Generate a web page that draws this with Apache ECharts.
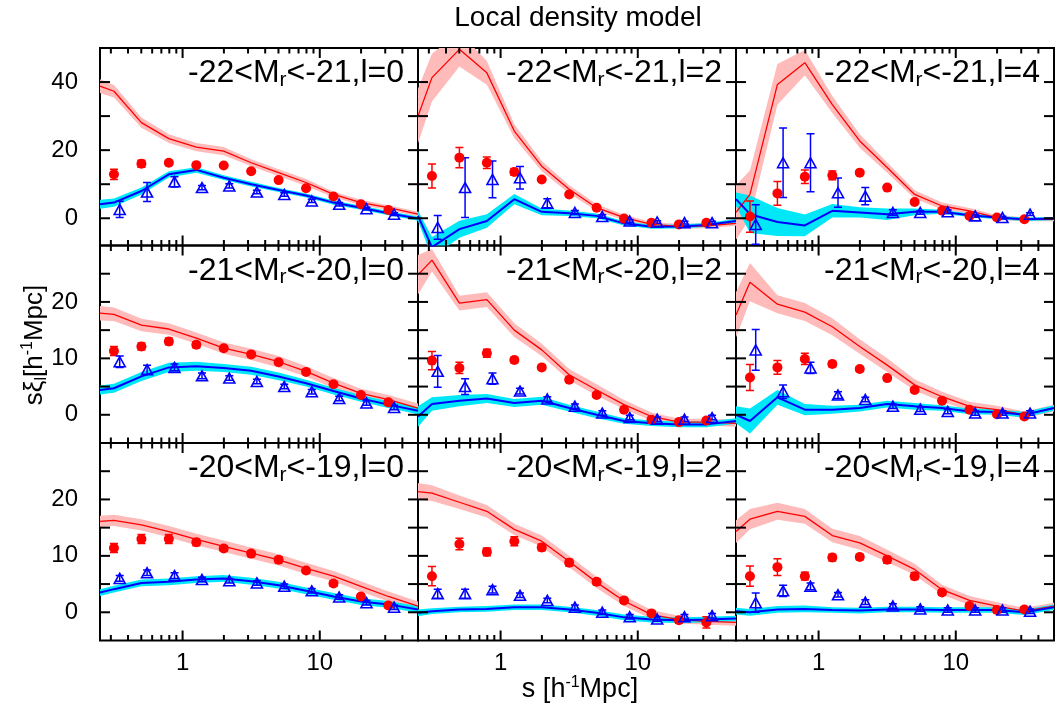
<!DOCTYPE html>
<html><head><meta charset="utf-8">
<script src="https://cdn.jsdelivr.net/npm/echarts@6/dist/echarts.min.js"></script>
<style>html,body{margin:0;padding:0;background:#fff}#c{width:1055px;height:715px}</style>
</head><body><div id="c"></div><script>
// ---- x positions (h^-1 Mpc) ----
const sObs   = [0.316, 0.501, 0.794, 1.259, 1.995, 3.162, 5.012, 7.943, 12.59, 19.95, 31.62];
const sTri   = [0.348, 0.551, 0.873, 1.385, 2.19, 3.48, 5.51, 8.74, 13.85, 21.9, 34.8];
const sModel = [0.25, 0.316, 0.501, 0.794, 1.259, 1.995, 3.162, 5.012, 7.943, 12.59, 19.95, 31.62, 52];
const majorTicksX = [1, 10];
const minorTicksX = [0.3,0.4,0.5,0.6,0.7,0.8,0.9,2,3,4,5,6,7,8,9,20,30,40];
const yMinRow = [-8, -5, -5];
const yMaxRow = [50, 30, 30];
const yTicksRow = [[0,10,20,30,40],[0,5,10,15,20,25],[0,5,10,15,20,25]];
const yLabelsRow = [[0,20,40],[0,10,20],[0,10,20]];
const panelMag = ['-22<M', '-22<M', '-22<M', '-21<M', '-21<M', '-21<M', '-20<M', '-20<M', '-20<M'];
const panelRest = ['<-21,l=0','<-21,l=2','<-21,l=4','<-20,l=0','<-20,l=2','<-20,l=4','<-19,l=0','<-19,l=2','<-19,l=4'];

// ---- panel 1: -22<Mr<-21, l=0 ----
const redModel_A  = [38.8, 37.3, 28.1, 23.4, 20.9, 19.7, 16.3, 13.4, 10.5, 7.0, 4.6, 3.1, 1.2];
const redBand_A   = [2.0, 1.8, 1.5, 1.3, 1.2, 1.2, 1.0, 1.0, 1.0, 0.8, 0.8, 0.7, 0.7];
const blueModel_A = [4.1, 4.6, 8.0, 12.9, 14.2, 11.9, 10.0, 8.3, 6.7, 4.6, 3.1, 1.5, -0.1];
const blueBand_A  = [1.3, 1.2, 1.0, 0.9, 0.8, 0.7, 0.7, 0.6, 0.6, 0.6, 0.6, 0.6, 0.6];
const redObs_A    = [12.9, 16.0, 16.3, 15.6, 15.5, 13.8, 11.2, 8.8, 6.4, 4.1, 2.4];
const redErr_A    = [1.5, 1.0, 0.6, 0.5, 0.4, 0.4, 0.4, 0.4, 0.4, 0.4, 0.4];
const blueObs_A   = [2.6, 7.7, 10.7, 9.0, 9.5, 7.7, 7.0, 5.1, 4.1, 2.8, 1.2];
const blueErr_A   = [2.4, 2.8, 1.5, 0.6, 0.6, 0.5, 0.5, 0.5, 0.5, 0.4, 0.4];
// ---- panel 2: -22<Mr<-21, l=2 ----
const redModel_B  = [30.0, 41.3, 49.6, 42.7, 25.6, 15.3, 8.5, 3.1, 0.2, -1.8, -2.4, -2.2, -1.5];
const redBand_B   = [8, 7, 5, 3.5, 2, 1.5, 1.2, 1, 0.8, 0.7, 0.7, 0.7, 0.7];
const blueModel_B = [0.7, -8.5, -3.2, -0.8, 5.6, 1.9, 1.5, 0.7, -1.5, -2.5, -2.4, -2.0, -0.8];
const blueBand_B  = [1.5, 3, 2.5, 2, 1.5, 1, 0.8, 0.7, 0.6, 0.6, 0.6, 0.6, 0.6];
const redObs_B    = [12.4, 17.8, 16.3, 13.6, 11.4, 7.0, 3.1, -0.1, -1.3, -1.8, -1.3];
const redErr_B    = [3.5, 3.0, 1.7, 1.0, 0.5, 0.4, 0.4, 0.4, 0.4, 0.4, 0.4];
const blueObs_B   = [-2.7, 9.0, 11.4, 11.9, 4.4, 1.7, 0.5, -0.8, -1.1, -1.3, -1.3];
const blueErr_B   = [3.5, 8.8, 5.4, 3.3, 1.3, 0.6, 0.5, 0.4, 0.4, 0.4, 0.4];
// ---- panel 3: -22<Mr<-21, l=4 ----
const redModel_C  = [1.7, 7.0, 39.3, 45.7, 33.4, 22.7, 14.9, 7.0, 3.6, 2.2, 0.2, -0.3, -0.3];
const redBand_C   = [8, 7, 6, 3.7, 2.5, 2, 1.5, 1.2, 1, 0.8, 0.7, 0.6, 0.6];
const blueModel_C = [5.6, 1.2, -1.1, -2.1, 2.2, 1.7, 1.2, 1.9, 1.9, 0.9, 0.2, -0.3, -0.1];
const blueBand_C  = [2, 5.5, 4.1, 3.2, 2, 1.5, 1.7, 1, 0.6, 0.5, 0.5, 0.5, 0.5];
const redObs_C    = [0.5, 7.3, 12.2, 12.6, 13.4, 9.0, 4.8, 2.2, 0.7, 0.2, -0.3];
const redErr_C    = [4.6, 3.5, 2.0, 1.3, 0.5, 0.4, 0.4, 0.4, 0.4, 0.4, 0.4];
const blueObs_C   = [-1.8, 16.3, 16.3, 7.5, 6.5, 1.7, 1.7, 1.9, 0.7, 0.2, 1.2];
const blueErr_C   = [5.8, 10.2, 8.5, 4.3, 2.5, 0.8, 0.5, 0.5, 0.4, 0.4, 0.4];
// ---- panel 4: -21<Mr<-20, l=0 ----
const redModel_D  = [18.0, 17.8, 15.9, 15.2, 13.6, 11.8, 10.7, 9.4, 7.7, 5.6, 3.8, 2.7, 1.2];
const redBand_D   = [1.3, 1.2, 1.1, 1.0, 1.0, 1.0, 1.0, 1.0, 0.9, 0.9, 0.8, 0.8, 0.8];
const blueModel_D = [4.4, 4.7, 6.8, 8.4, 8.6, 8.3, 7.8, 6.8, 5.6, 4.2, 2.9, 1.8, 0.7];
const blueBand_D  = [0.8, 0.8, 0.8, 0.8, 0.8, 0.7, 0.7, 0.7, 0.6, 0.6, 0.6, 0.6, 0.6];
const redObs_D    = [11.3, 12.1, 13.0, 12.4, 11.8, 10.7, 9.3, 7.6, 5.4, 3.5, 2.2];
const redErr_D    = [0.8, 0.6, 0.6, 0.5, 0.4, 0.4, 0.4, 0.4, 0.4, 0.4, 0.4];
const blueObs_D   = [9.4, 8.0, 8.4, 6.9, 6.5, 5.9, 5.0, 4.1, 2.9, 2.1, 1.3];
const blueErr_D   = [1.0, 0.8, 0.6, 0.5, 0.4, 0.4, 0.4, 0.4, 0.4, 0.4, 0.4];
// ---- panel 5: -21<Mr<-20, l=2 ----
const redModel_E  = [24.8, 27.4, 19.8, 20.4, 15.0, 11.5, 7.1, 4.4, 1.8, -0.3, -1.3, -1.3, -1.5];
const redBand_E   = [3.5, 2, 1.3, 1.3, 1.2, 1.1, 1, 1, 0.8, 0.7, 0.6, 0.6, 0.6];
const blueModel_E = [-0.3, 1.9, 2.5, 2.9, 2.1, 2.5, 1.2, 0.0, -1.1, -1.5, -1.7, -1.7, -1.1];
const blueBand_E  = [1.8, 1.2, 1.0, 0.8, 0.7, 0.7, 0.6, 0.6, 0.5, 0.5, 0.5, 0.5, 0.5];
const redObs_E    = [9.6, 8.3, 10.9, 9.7, 8.4, 6.2, 3.5, 0.9, -0.9, -1.3, -1.0];
const redErr_E    = [1.6, 1.0, 0.7, 0.5, 0.4, 0.4, 0.4, 0.4, 0.4, 0.4, 0.4];
const blueObs_E   = [7.7, 5.0, 6.4, 4.2, 2.8, 1.5, 0.3, -0.5, -0.8, -0.8, -0.5];
const blueErr_E   = [2.8, 1.4, 1.0, 0.5, 0.4, 0.4, 0.4, 0.4, 0.4, 0.4, 0.4];
// ---- panel 6: -21<Mr<-20, l=4 ----
const redModel_F  = [17.7, 23.5, 19.6, 18.2, 15.6, 12.1, 8.8, 5.3, 3.2, 1.5, 0.9, 0.0, 1.2];
const redBand_F   = [4, 3.4, 1.6, 1.6, 1.5, 1.3, 1.2, 1, 0.9, 0.8, 0.7, 0.6, 0.6];
const blueModel_F = [0.0, -1.1, 3.1, 0.9, 0.9, 1.2, 1.9, 1.5, 1.2, 0.6, 0.5, 0.0, 1.2];
const blueBand_F  = [1.5, 2.2, 1.3, 1.0, 0.7, 0.6, 0.6, 0.6, 0.5, 0.5, 0.5, 0.5, 0.5];
const redObs_F    = [6.6, 8.4, 9.9, 9.0, 8.1, 6.5, 4.4, 2.5, 0.9, 0.1, -0.3];
const redErr_F    = [2.3, 1.2, 1.0, 0.5, 0.4, 0.4, 0.4, 0.4, 0.4, 0.4, 0.4];
const blueObs_F   = [11.5, 4.1, 8.3, 3.5, 2.7, 1.5, 1.0, 0.6, 0.3, 0.3, 0.3];
const blueErr_F   = [3.6, 1.2, 1.0, 0.6, 0.4, 0.4, 0.4, 0.4, 0.4, 0.4, 0.4];
// ---- panel 7: -20<Mr<-19, l=0 ----
const redModel_G  = [16.1, 16.3, 15.5, 14.3, 12.9, 11.7, 10.5, 9.3, 7.8, 6.4, 4.6, 2.8, 1.1];
const redBand_G   = [1, 1, 1, 1, 1, 1, 1, 1, 1, 0.9, 0.9, 0.9, 0.8];
const blueModel_G = [3.5, 4.1, 5.2, 5.4, 5.8, 6.0, 5.5, 4.8, 3.8, 2.8, 1.9, 1.4, 0.5];
const blueBand_G  = [0.6, 0.6, 0.6, 0.6, 0.6, 0.6, 0.6, 0.6, 0.6, 0.6, 0.6, 0.6, 0.6];
const redObs_G    = [11.4, 13.0, 13.0, 12.4, 11.3, 10.4, 9.3, 7.4, 5.1, 2.8, 1.2];
const redErr_G    = [0.8, 0.8, 0.8, 0.6, 0.5, 0.5, 0.5, 0.5, 0.5, 0.4, 0.4];
const blueObs_G   = [6.0, 7.0, 6.5, 5.8, 5.6, 5.2, 4.6, 3.8, 2.7, 1.7, 0.9];
const blueErr_G   = [0.5, 0.5, 0.5, 0.4, 0.4, 0.4, 0.4, 0.4, 0.4, 0.4, 0.4];
// ---- panel 8: -20<Mr<-19, l=2 ----
const redModel_H  = [21.4, 21.1, 19.5, 17.9, 14.7, 12.6, 9.0, 5.3, 2.0, -0.4, -1.3, -1.6, -1.8];
const redBand_H   = [1.5, 1.4, 1.2, 1.1, 1, 1, 1, 1, 0.9, 0.8, 0.7, 0.6, 0.6];
const blueModel_H = [-0.1, 0.2, 0.5, 0.6, 0.9, 0.9, 0.5, -0.1, -0.9, -1.3, -1.4, -1.3, -1.1];
const blueBand_H  = [0.6, 0.5, 0.5, 0.5, 0.5, 0.5, 0.5, 0.5, 0.5, 0.5, 0.5, 0.5, 0.5];
const redObs_H    = [6.4, 12.1, 10.7, 12.6, 11.5, 8.8, 5.4, 2.1, -0.2, -1.4, -1.8];
const redErr_H    = [1.7, 1.0, 0.7, 0.8, 0.6, 0.6, 0.5, 0.5, 0.5, 0.5, 1.0];
const blueObs_H   = [3.3, 3.3, 4.0, 3.0, 2.1, 0.9, 0.0, -0.8, -1.2, -0.8, -0.6];
const blueErr_H   = [0.8, 0.8, 0.6, 0.4, 0.4, 0.4, 0.4, 0.4, 0.4, 0.4, 0.4];
// ---- panel 9: -20<Mr<-19, l=4 ----
const redModel_I  = [14.3, 16.5, 17.9, 17.0, 13.6, 12.3, 10.0, 7.6, 4.0, 2.1, 1.1, 0.2, 1.1];
const redBand_I   = [2, 1.8, 1.5, 1.3, 1.2, 1.2, 1.1, 1, 0.9, 0.8, 0.7, 0.6, 0.6];
const blueModel_I = [0.2, 0.0, 0.5, 0.6, 0.4, 0.3, 0.5, 0.5, 0.4, 0.4, 0.4, 0.0, 0.9];
const blueBand_I  = [0.6, 0.6, 0.6, 0.6, 0.5, 0.5, 0.5, 0.5, 0.5, 0.5, 0.5, 0.5, 0.5];
const redObs_I    = [6.4, 8.0, 6.4, 9.7, 9.8, 9.3, 6.4, 3.5, 1.1, 0.4, 0.5];
const redErr_I    = [1.8, 1.5, 0.7, 0.6, 0.5, 0.6, 0.6, 0.5, 0.5, 0.5, 0.5];
const blueObs_I   = [1.7, 3.8, 4.6, 3.1, 1.8, 1.1, 0.6, 0.4, 0.4, 0.4, 0.2];
const blueErr_I   = [1.7, 1.0, 0.6, 0.4, 0.4, 0.4, 0.4, 0.4, 0.4, 0.4, 0.4];

const panels = [
  [redModel_A, redBand_A, blueModel_A, blueBand_A, redObs_A, redErr_A, blueObs_A, blueErr_A],
  [redModel_B, redBand_B, blueModel_B, blueBand_B, redObs_B, redErr_B, blueObs_B, blueErr_B],
  [redModel_C, redBand_C, blueModel_C, blueBand_C, redObs_C, redErr_C, blueObs_C, blueErr_C],
  [redModel_D, redBand_D, blueModel_D, blueBand_D, redObs_D, redErr_D, blueObs_D, blueErr_D],
  [redModel_E, redBand_E, blueModel_E, blueBand_E, redObs_E, redErr_E, blueObs_E, blueErr_E],
  [redModel_F, redBand_F, blueModel_F, blueBand_F, redObs_F, redErr_F, blueObs_F, blueErr_F],
  [redModel_G, redBand_G, blueModel_G, blueBand_G, redObs_G, redErr_G, blueObs_G, blueErr_G],
  [redModel_H, redBand_H, blueModel_H, blueBand_H, redObs_H, redErr_H, blueObs_H, blueErr_H],
  [redModel_I, redBand_I, blueModel_I, blueBand_I, redObs_I, redErr_I, blueObs_I, blueErr_I]
];

// ---- layout / style ----
const FONT = 'Liberation Sans, Arial, Helvetica, sans-serif';
const gridLeft = [100, 418, 736], gridTop = [48, 245.5, 443], gridW = 318, gridH = 197.5;
const RED = '#ff0000', PINK = '#ffbaba', BLUE = '#0000ff', CYAN = '#00e8f8';
const X_MIN = 0.25, X_MAX = 52;

const chart = echarts.init(document.getElementById('c'));
const grid = [], xAxis = [], yAxis = [], series = [], graphics = [];

function bandSeries(xi, yi, xs, mid, hw, color) {
  return {
    type: 'custom', xAxisIndex: xi, yAxisIndex: yi, clip: true, silent: true, z: 1,
    data: xs.map((x, k) => [x, mid[k]]),
    renderItem: (params, api) => {
      if (params.dataIndex !== 0) return;
      const pts = [];
      for (let k = 0; k < xs.length; k++) pts.push(api.coord([xs[k], mid[k] + hw[k]]));
      for (let k = xs.length - 1; k >= 0; k--) pts.push(api.coord([xs[k], mid[k] - hw[k]]));
      return {type: 'polygon', shape: {points: pts}, style: {fill: color, stroke: null}};
    }
  };
}
function errSeries(xi, yi, xs, ys, es, color) {
  return {
    type: 'custom', xAxisIndex: xi, yAxisIndex: yi, clip: true, silent: true, z: 4,
    data: xs.map((x, k) => [x, ys[k], es[k]]),
    renderItem: (params, api) => {
      const x = api.value(0), y = api.value(1), e = api.value(2);
      const a = api.coord([x, y + e]), b = api.coord([x, y - e]);
      const w = 4, st = {stroke: color, lineWidth: 1.5};
      return {type: 'group', children: [
        {type: 'line', shape: {x1: a[0], y1: a[1], x2: b[0], y2: b[1]}, style: st},
        {type: 'line', shape: {x1: a[0] - w, y1: a[1], x2: a[0] + w, y2: a[1]}, style: st},
        {type: 'line', shape: {x1: b[0] - w, y1: b[1], x2: b[0] + w, y2: b[1]}, style: st}
      ]};
    }
  };
}

panels.forEach((p, i) => {
  const r = Math.floor(i / 3), c = i % 3;
  const [rm, rb, bm, bb, ro, re, bo, be] = p;
  const yMin = yMinRow[r], yMax = yMaxRow[r];
  grid.push({left: gridLeft[c], top: gridTop[r], width: gridW, height: gridH,
    show: true, borderColor: '#000', borderWidth: 2, backgroundColor: 'rgba(0,0,0,0)'});
  const xi = xAxis.length, yi = yAxis.length;
  xAxis.push({type: 'log', logBase: 10, gridIndex: i, min: X_MIN, max: X_MAX, position: 'bottom',
    axisLine: {show: false, onZero: false}, splitLine: {show: false}, axisTick: {show: false},
    axisLabel: {show: r === 2, customValues: majorTicksX, fontSize: 24, color: '#000', fontFamily: FONT, margin: 11}});
  yAxis.push({type: 'value', gridIndex: i, min: yMin, max: yMax, position: 'left',
    axisLine: {show: false, onZero: false}, splitLine: {show: false}, axisTick: {show: false},
    axisLabel: {show: c === 0, customValues: yLabelsRow[r], fontSize: 24, color: '#000', fontFamily: FONT, margin: 22}});

  series.push(bandSeries(xi, yi, sModel, rm, rb, PINK));
  series.push(bandSeries(xi, yi, sModel, bm, bb, CYAN));
  series.push({type: 'line', xAxisIndex: xi, yAxisIndex: yi, data: sModel.map((x, k) => [x, rm[k]]),
    symbol: 'none', clip: true, z: 2, lineStyle: {color: RED, width: 1.3}, silent: true});
  series.push({type: 'line', xAxisIndex: xi, yAxisIndex: yi, data: sModel.map((x, k) => [x, bm[k]]),
    symbol: 'none', clip: true, z: 2, lineStyle: {color: BLUE, width: 2}, silent: true});
  series.push(errSeries(xi, yi, sObs, ro, re, RED));
  series.push(errSeries(xi, yi, sTri, bo, be, BLUE));
  series.push({type: 'scatter', xAxisIndex: xi, yAxisIndex: yi, data: sObs.map((x, k) => [x, ro[k]]),
    symbol: 'circle', symbolSize: 10, clip: true, z: 5, itemStyle: {color: RED, opacity: 1}, silent: true});
  series.push({type: 'scatter', xAxisIndex: xi, yAxisIndex: yi, data: sTri.map((x, k) => [x, bo[k]]),
    symbol: 'triangle', symbolSize: [11, 10], clip: true, z: 5,
    itemStyle: {color: 'rgba(255,255,255,0)', borderColor: BLUE, borderWidth: 1.6, opacity: 1}, silent: true});

  graphics.push({type: 'text', x: gridLeft[c] + gridW - 14, y: gridTop[r] + 25.5, z: 100,
    style: {text: '{t|' + panelMag[i] + '}{s|r}{t|' + panelRest[i] + '}', textAlign: 'right', textVerticalAlign: 'middle',
      rich: {t: {fontSize: 32, fontFamily: FONT, lineHeight: 34, fill: '#000'},
             s: {fontSize: 21, fontFamily: FONT, lineHeight: 12, verticalAlign: 'bottom', fill: '#000'}}}});
});

graphics.push({type: 'text', x: 578, y: 18, z: 100,
  style: {text: 'Local density model', font: '28px ' + FONT, fill: '#000', textAlign: 'center', textVerticalAlign: 'middle'}});
graphics.push({type: 'text', x: 580, y: 690, z: 100,
  style: {text: '{t|s [h}{p|-1}{t|Mpc]}', textAlign: 'center', textVerticalAlign: 'middle',
    rich: {t: {fontSize: 27, fontFamily: FONT, lineHeight: 30, fill: '#000'},
           p: {fontSize: 16, fontFamily: FONT, lineHeight: 8, verticalAlign: 'top', fill: '#000'}}}});
graphics.push({type: 'text', x: 35, y: 345, rotation: Math.PI / 2, z: 100,
  style: {text: '{t|sξ}{s|l}{t|[h}{p|-1}{t|Mpc]}', textAlign: 'center', textVerticalAlign: 'middle',
    rich: {t: {fontSize: 26, fontFamily: FONT, lineHeight: 30, fill: '#000'},
           s: {fontSize: 16, fontFamily: FONT, lineHeight: 8, verticalAlign: 'bottom', fill: '#000'},
           p: {fontSize: 16, fontFamily: FONT, lineHeight: 8, verticalAlign: 'top', fill: '#000'}}}});

chart.setOption({animation: false, backgroundColor: '#fff', grid, xAxis, yAxis, series, graphic: {elements: graphics}});

// frame ticks (inward on all four sides), positioned through each panel's axis scales
const tickEls = [];
const tick = (x1, y1, x2, y2) => tickEls.push({type: 'line', z: 100, silent: true,
  shape: {x1, y1, x2, y2}, style: {stroke: '#000', lineWidth: 2}});
panels.forEach((p, i) => {
  const r = Math.floor(i / 3);
  const yMin = yMinRow[r], yMax = yMaxRow[r];
  const finder = {xAxisIndex: i, yAxisIndex: i};
  const px = (v) => chart.convertToPixel(finder, v);
  majorTicksX.concat(minorTicksX).forEach(v => {
    const len = majorTicksX.indexOf(v) >= 0 ? 10 : 5.5;
    const b = px([v, yMin]), t = px([v, yMax]);
    tick(b[0], b[1], b[0], b[1] - len);
    tick(t[0], t[1], t[0], t[1] + len);
  });
  yTicksRow[r].forEach(v => {
    const L = px([X_MIN, v]), R = px([X_MAX, v]);
    tick(L[0], L[1], L[0] + 10, L[1]);
    tick(R[0], R[1], R[0] - 10, R[1]);
  });
});
chart.setOption({graphic: {elements: graphics.concat(tickEls)}});
</script></body></html>
